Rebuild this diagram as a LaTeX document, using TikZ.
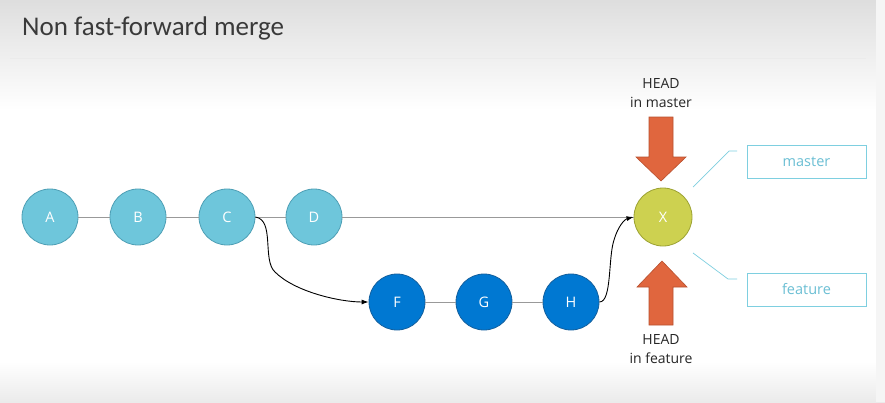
\documentclass[tikz,border=0pt]{standalone}
\usepackage{fontspec}
\setmainfont{Carlito}
\newfontfamily\segoe{Open Sans}
\usetikzlibrary{arrows.meta,shapes.arrows}
\definecolor{lightfill}{HTML}{6EC6DB}
\definecolor{lightdraw}{HTML}{4E9FB5}
\definecolor{darkfill}{HTML}{0078D2}
\definecolor{darkdraw}{HTML}{14609E}
\definecolor{xfill}{HTML}{CDD150}
\definecolor{xdraw}{HTML}{9CA232}
\definecolor{headfill}{HTML}{E0663E}
\definecolor{headdraw}{HTML}{B8502E}
\definecolor{tagcol}{HTML}{7ECFE0}
\definecolor{tagtext}{HTML}{6BBFD4}
\definecolor{titlecol}{HTML}{3A3A3A}
\begin{document}
\begin{tikzpicture}[x=1pt,y=-1pt,
  commit/.style={circle,minimum size=56pt,inner sep=0pt,line width=0.8pt,text=white,font=\segoe\fontsize{14.5}{17}\selectfont},
  cold/.style={commit,fill=lightfill,draw=lightdraw},
  cnew/.style={commit,fill=darkfill,draw=darkdraw},
  cmerge/.style={commit,fill=xfill,draw=xdraw,minimum size=58pt},
  link/.style={draw=black!40,line width=0.8pt},
  flow/.style={draw=black,line width=0.9pt,-{Latex[length=7pt,width=5pt]}},
  tag/.style={draw=tagcol,line width=0.8pt,minimum width=119pt,minimum height=33pt,inner sep=0pt,text=tagtext,font=\segoe\fontsize{14.5}{17}\selectfont},
  tagline/.style={draw=tagcol,line width=0.7pt},
  headlbl/.style={align=center,text=black!85,font=\segoe\fontsize{14}{18.5}\selectfont},
  headarrow/.style={fill=headfill,draw=headdraw,line width=0.6pt}
]
\useasboundingbox (0,0) rectangle (885,402);
% background
\fill[white] (0,0) rectangle (885,402);
\shade[top color=black!13,bottom color=white] (0,0) rectangle (885,110);
\shade[top color=white,bottom color=black!8] (0,362) rectangle (885,402);
\fill[black!4] (876,0) rectangle (885,402);
% title
\node[anchor=base west,inner sep=0pt,text=titlecol,font=\fontsize{27}{32}\selectfont] (title) at (22,35) {Non fast-forward merge};
\draw[black!8,line width=1pt] (10,58) -- (866,58);
% commits
\node[cold] (A) at (50,217) {A};
\node[cold] (B) at (138,217) {B};
\node[cold] (C) at (227,217) {C};
\node[cold] (D) at (314,217) {D};
\node[cmerge] (X) at (663,217) {X};
\node[cnew] (F) at (397,302) {F};
\node[cnew] (G) at (484,302) {G};
\node[cnew] (H) at (571,302) {H};
% links
\draw[link] (A) -- (B);
\draw[link] (B) -- (C);
\draw[link] (C) -- (D);
\draw[link] (D) -- (X);
\draw[link] (F) -- (G);
\draw[link] (G) -- (H);
\draw[flow] (C.east) .. controls (275,220) and (262,260) .. (275,272) .. controls (295,292) and (340,302) .. (F.west);
\draw[flow] (H.east) .. controls (612,302) and (608,258) .. (614,240) .. controls (618,226) and (625,219) .. (X.west);
% head arrows
\node[headlbl] (hm) at (661,93) {HEAD\\in master};
\node[headlbl] (hf) at (661,349) {HEAD\\in feature};
\draw[headarrow] (649,117) -- (673,117) -- (673,157) -- (686,157) -- (661,181) -- (636,157) -- (649,157) -- cycle;
\draw[headarrow] (649,325) -- (673,325) -- (673,287) -- (687,287) -- (662,261) -- (637,287) -- (649,287) -- cycle;
% tags
\node[tag] (master) at (806.5,161.5) {master};
\node[tag] (feature) at (806.5,289.5) {feature};
\coordinate (m1) at (693,187);
\coordinate (m2) at (729,151);
\coordinate (m3) at (737,151);
\coordinate (f1) at (693,253);
\coordinate (f2) at (728,279);
\coordinate (f3) at (737,279);
\draw[tagline] (m1) -- (m2) -- (m3);
\draw[tagline] (f1) -- (f2) -- (f3);
\end{tikzpicture}
\end{document}
